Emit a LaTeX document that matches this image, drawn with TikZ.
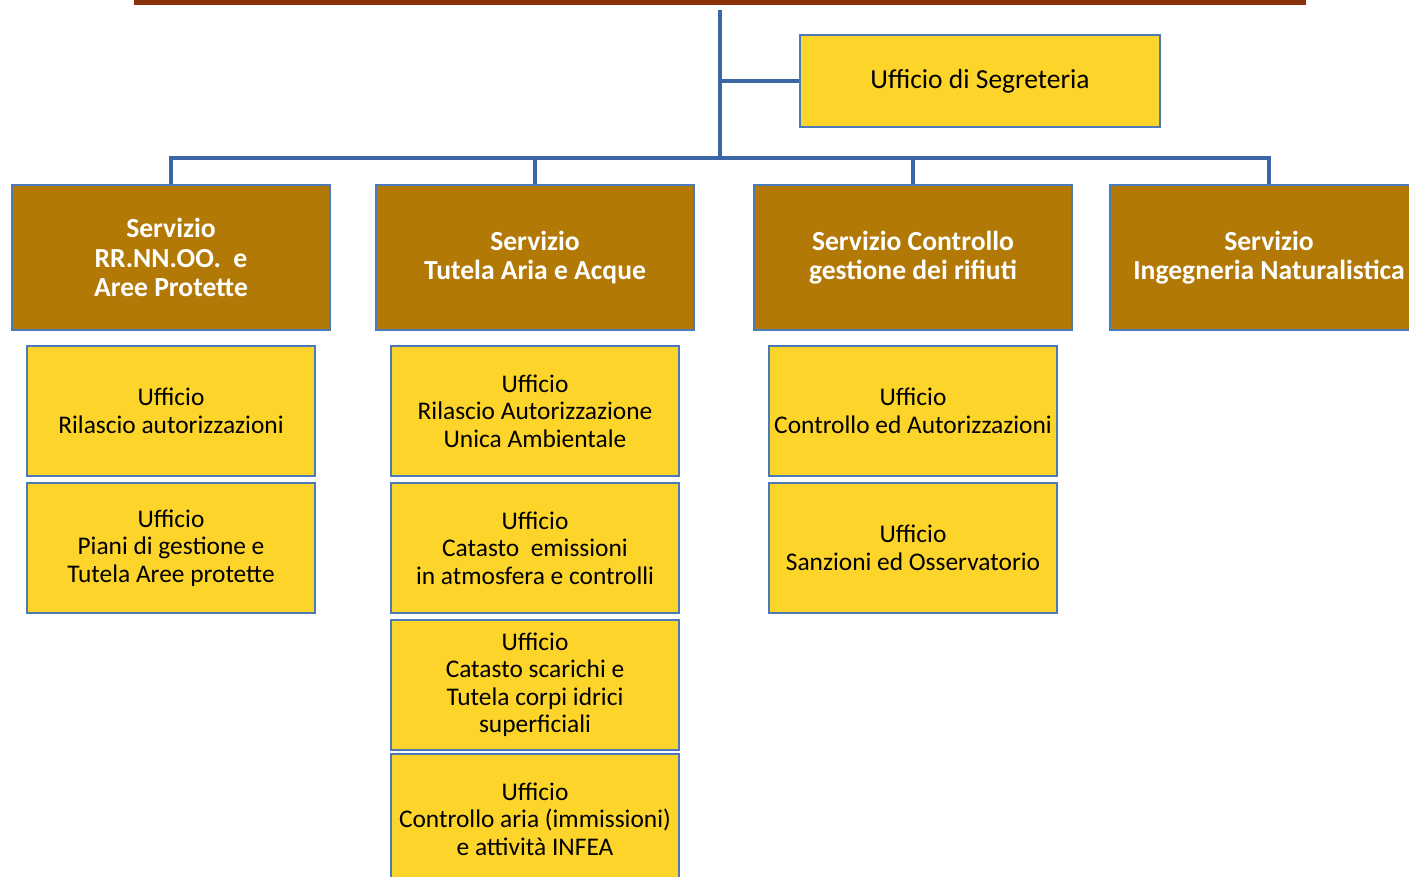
\documentclass[tikz,border=0pt]{standalone}
\usepackage{fontspec}
\setmainfont{Carlito}
\definecolor{barbrown}{RGB}{137,50,10}
\definecolor{linkblue}{RGB}{58,102,166}
\definecolor{edgeblue}{RGB}{74,122,184}
\definecolor{svcfill}{RGB}{179,121,6}
\definecolor{uffill}{RGB}{253,212,42}
\tikzset{
  svc/.style={rectangle, fill=svcfill, draw=edgeblue, line width=1.5pt, text=white,
    font=\bfseries\fontsize{27.6}{29.5}\selectfont, align=center,
    minimum width=318pt, minimum height=145pt, inner sep=0pt},
  uff/.style={rectangle, fill=uffill, draw=edgeblue, line width=1.5pt, text=black,
    font=\fontsize{25.4}{27.5}\selectfont, align=center,
    minimum width=288pt, minimum height=130pt, inner sep=0pt},
  link/.style={draw=linkblue, line width=4pt}
}
\begin{document}
\begin{tikzpicture}[x=1pt,y=-1pt]
\useasboundingbox (0,0) rectangle (1409,876);
\clip (0,0) rectangle (1409,876);
\fill[barbrown] (134,0) rectangle (1306,5);
% secretary
\node[uff, minimum width=360pt, minimum height=92pt, font=\fontsize{27.5}{29}\selectfont] (seg) at (980,81) {Ufficio di Segreteria};
% services
\node[svc] (s1) at (171,257.5) {Servizio\\RR.NN.OO.~~e\\Aree Protette};
\node[svc] (s2) at (535,257.5) {Servizio\\Tutela Aria e Acque};
\node[svc] (s3) at (913,257.5) {Servizio Controllo\\gestione dei rifiuti};
\node[svc] (s4) at (1269,257.5) {Servizio\\Ingegneria Naturalistica};
% offices
\node[uff] (u11) at (171,411) {Ufficio\\Rilascio autorizzazioni};
\node[uff] (u12) at (171,548) {Ufficio\\Piani di gestione e\\Tutela Aree protette};
\node[uff] (u21) at (535,411) {Ufficio\\Rilascio Autorizzazione\\Unica Ambientale};
\node[uff] (u22) at (535,548) {Ufficio\\Catasto~ emissioni\\in atmosfera e controlli};
\node[uff] (u23) at (535,685) {Ufficio\\Catasto scarichi e\\Tutela corpi idrici\\superficiali};
\node[uff] (u24) at (535,819) {Ufficio\\Controllo aria (immissioni)\\e attività INFEA};
\node[uff] (u31) at (913,411) {Ufficio\\Controllo ed Autorizzazioni};
\node[uff] (u32) at (913,548) {Ufficio\\Sanzioni ed Osservatorio};
% connectors
\coordinate (top) at (720,10);
\coordinate (bus) at (720,158);
\draw[link] (top) -- (bus);
\draw[link] (top |- seg.west) -- (seg.west);
\draw[link] (s1.north) |- (bus) -| (s4.north);
\draw[link] (s2.north) -- (s2.north |- bus);
\draw[link] (s3.north) -- (s3.north |- bus);
\end{tikzpicture}
\end{document}
